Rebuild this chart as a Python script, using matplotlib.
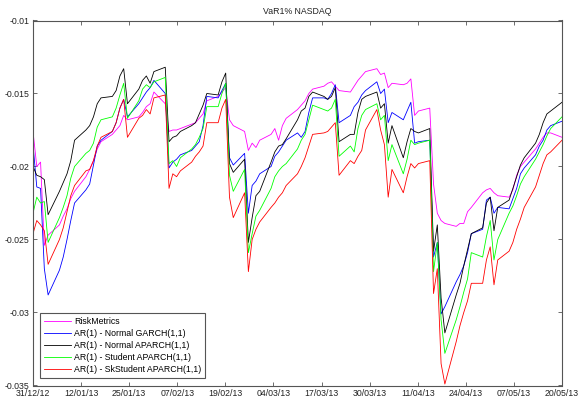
import numpy as np
import pandas as pd
import matplotlib
matplotlib.use('Agg')
import matplotlib.pyplot as plt
import matplotlib.dates as mdates

plt.rcParams['font.family'] = ['Liberation Sans', 'DejaVu Sans']
plt.rcParams['font.size'] = 6.3

# weekdays 31/12/2012 .. 20/05/2013
dates = pd.bdate_range('2012-12-31', '2013-05-20')

risk_metrics = [
    -0.0176,
    -0.0200, -0.0197, -0.0254, -0.0247, -0.0240, -0.0234, -0.0229, -0.0222, -0.0217, -0.0207, -0.0202, -0.0196,
    -0.0188, -0.0183, -0.0178, -0.0175, -0.0172, -0.0165, -0.0168, -0.0166, -0.0163, -0.0159, -0.0157,
    -0.0149, -0.0157, -0.0176, -0.0175, -0.0175, -0.0174, -0.0171, -0.0170, -0.0167, -0.0164, -0.0155, -0.0152,
    -0.0149, -0.0146, -0.0168, -0.0172, -0.0176, -0.0189, -0.0184, -0.0187,
    -0.0182, -0.0178, -0.0174, -0.0182, -0.0172, -0.0167, -0.0161, -0.0158, -0.0155, -0.0150, -0.0147, -0.0145,
    -0.0143, -0.0142, -0.0145, -0.0148, -0.0149, -0.0145, -0.0141, -0.0138, -0.0135,
    -0.0133, -0.0137, -0.0136, -0.0146, -0.0143, -0.0144, -0.0143, -0.0140, -0.0165, -0.0162, -0.0160, -0.0212,
    -0.0232, -0.0237, -0.0239, -0.0241, -0.0239, -0.0239, -0.0231, -0.0228, -0.0218, -0.0216,
    -0.0215, -0.0218, -0.0220, -0.0221, -0.0216, -0.0206, -0.0200, -0.0197, -0.0188, -0.0184, -0.0180, -0.0177,
    -0.0177, -0.0180,
]

normal_garch = [
    -0.0185,
    -0.0214, -0.0215, -0.0270, -0.0288, -0.0271, -0.0262, -0.0250, -0.0237, -0.0225, -0.0216, -0.0212, -0.0199,
    -0.0186, -0.0182, -0.0176, -0.0170, -0.0160, -0.0154, -0.0166, -0.0157, -0.0153, -0.0149, -0.0146,
    -0.0141, -0.0150, -0.0201, -0.0197, -0.0195, -0.0192, -0.0189, -0.0186, -0.0183, -0.0172, -0.0152, -0.0153,
    -0.0148, -0.0143, -0.0194, -0.0199, -0.0191, -0.0232, -0.0213, -0.0210,
    -0.0205, -0.0200, -0.0193, -0.0190, -0.0186, -0.0182, -0.0177, -0.0180, -0.0176, -0.0163, -0.0153, -0.0153,
    -0.0154, -0.0150, -0.0144, -0.0170, -0.0165, -0.0159, -0.0156, -0.0151, -0.0148,
    -0.0142, -0.0150, -0.0147, -0.0170, -0.0163, -0.0168, -0.0162, -0.0156, -0.0184, -0.0183, -0.0182, -0.0262,
    -0.0252, -0.0301, -0.0296, -0.0279, -0.0274, -0.0268, -0.0259, -0.0246, -0.0243, -0.0223,
    -0.0221, -0.0232, -0.0228, -0.0229, -0.0222, -0.0215, -0.0205, -0.0201, -0.0192, -0.0186, -0.0182, -0.0175,
    -0.0172, -0.0169,
]

normal_aparch = [
    -0.0200,
    -0.0206, -0.0207, -0.0209, -0.0233, -0.0217, -0.0211, -0.0205, -0.0196, -0.0182, -0.0175, -0.0172, -0.0166,
    -0.0157, -0.0153, -0.0152, -0.0148, -0.0138, -0.0133, -0.0157, -0.0147, -0.0141, -0.0138, -0.0143,
    -0.0135, -0.0132, -0.0183, -0.0180, -0.0179, -0.0176, -0.0172, -0.0170, -0.0164, -0.0158, -0.0150, -0.0151,
    -0.0142, -0.0136, -0.0198, -0.0204, -0.0195, -0.0252, -0.0235, -0.0220,
    -0.0217, -0.0197, -0.0190, -0.0186, -0.0185, -0.0181, -0.0168, -0.0162, -0.0160, -0.0152, -0.0149, -0.0152,
    -0.0154, -0.0152, -0.0146, -0.0183, -0.0178, -0.0178, -0.0163, -0.0154, -0.0152,
    -0.0149, -0.0160, -0.0157, -0.0184, -0.0172, -0.0194, -0.0183, -0.0174, -0.0176, -0.0177, -0.0174, -0.0258,
    -0.0240, -0.0290, -0.0314, -0.0288, -0.0280, -0.0268, -0.0257, -0.0246, -0.0242, -0.0225,
    -0.0221, -0.0244, -0.0228, -0.0223, -0.0215, -0.0207, -0.0199, -0.0194, -0.0184, -0.0178, -0.0170, -0.0164,
    -0.0162, -0.0156,
]

student_aparch = [
    -0.0232,
    -0.0221, -0.0225, -0.0224, -0.0252, -0.0235, -0.0228, -0.0220, -0.0208, -0.0200, -0.0191, -0.0189, -0.0184,
    -0.0173, -0.0168, -0.0166, -0.0160, -0.0151, -0.0143, -0.0167, -0.0155, -0.0147, -0.0144, -0.0146,
    -0.0142, -0.0139, -0.0198, -0.0196, -0.0200, -0.0194, -0.0188, -0.0185, -0.0180, -0.0174, -0.0159, -0.0159,
    -0.0150, -0.0143, -0.0206, -0.0217, -0.0202, -0.0259, -0.0246, -0.0234,
    -0.0230, -0.0215, -0.0207, -0.0203, -0.0200, -0.0198, -0.0188, -0.0182, -0.0178, -0.0168, -0.0158, -0.0161,
    -0.0162, -0.0160, -0.0154, -0.0193, -0.0186, -0.0190, -0.0174, -0.0165, -0.0161,
    -0.0157, -0.0168, -0.0165, -0.0196, -0.0185, -0.0205, -0.0195, -0.0182, -0.0185, -0.0184, -0.0182, -0.0272,
    -0.0252, -0.0305, -0.0328, -0.0305, -0.0296, -0.0286, -0.0277, -0.0259, -0.0262, -0.0248,
    -0.0237, -0.0264, -0.0250, -0.0232, -0.0227, -0.0220, -0.0212, -0.0207, -0.0195, -0.0190, -0.0185, -0.0179,
    -0.0174, -0.0166,
]

skstudent_aparch = [
    -0.0246,
    -0.0237, -0.0240, -0.0244, -0.0267, -0.0250, -0.0242, -0.0231, -0.0220, -0.0213, -0.0203, -0.0202, -0.0196,
    -0.0186, -0.0180, -0.0176, -0.0170, -0.0160, -0.0154, -0.0180, -0.0167, -0.0165, -0.0161, -0.0164,
    -0.0153, -0.0151, -0.0215, -0.0205, -0.0207, -0.0203, -0.0197, -0.0193, -0.0190, -0.0186, -0.0170, -0.0170,
    -0.0160, -0.0154, -0.0221, -0.0235, -0.0218, -0.0272, -0.0250, -0.0243,
    -0.0238, -0.0228, -0.0225, -0.0221, -0.0218, -0.0213, -0.0205, -0.0200, -0.0194, -0.0186, -0.0178, -0.0177,
    -0.0176, -0.0173, -0.0170, -0.0206, -0.0196, -0.0198, -0.0193, -0.0189, -0.0175,
    -0.0161, -0.0175, -0.0185, -0.0221, -0.0202, -0.0218, -0.0207, -0.0198, -0.0201, -0.0198, -0.0196, -0.0287,
    -0.0270, -0.0335, -0.0349, -0.0320, -0.0309, -0.0300, -0.0292, -0.0280, -0.0280, -0.0264,
    -0.0255, -0.0281, -0.0264, -0.0258, -0.0252, -0.0243, -0.0236, -0.0228, -0.0214, -0.0206, -0.0198, -0.0192,
    -0.0190, -0.0182,
]

labels = ['RiskMetrics', 'AR(1) - Normal GARCH(1,1)', 'AR(1) - Normal APARCH(1,1)',
          'AR(1) - Student APARCH(1,1)', 'AR(1) - SkStudent APARCH(1,1)']
colors = ['#ff00ff', '#0000ff', '#000000', '#00ff00', '#ff0000']

xtick_labels = ['31/12/12', '12/01/13', '25/01/13', '07/02/13', '19/02/13', '04/03/13',
                '17/03/13', '30/03/13', '11/04/13', '24/04/13', '07/05/13', '20/05/13']
ytick_values = [-0.035, -0.03, -0.025, -0.02, -0.015, -0.01]
ytick_labels = ['-0.035', '-0.03', '-0.025', '-0.02', '-0.015', '-0.01']

fig = plt.figure(figsize=(5.79, 3.97), dpi=100)
ax = fig.add_axes([33 / 579, 1 - 385.5 / 397, 529 / 579, 365 / 397])

series = [risk_metrics, normal_garch, normal_aparch, student_aparch, skstudent_aparch]
for vals, col, lab in zip(series, colors, labels):
    ax.plot(dates, vals, color=col, lw=0.6, label=lab)

x0 = mdates.date2num(dates[0])
x1 = mdates.date2num(dates[-1])
ax.set_xlim(x0, x1)
ax.set_xticks(np.linspace(x0, x1, len(xtick_labels)))
ax.set_xticklabels(xtick_labels)
ax.set_ylim(-0.035, -0.01)
ax.set_yticks(ytick_values)
ax.set_yticklabels(ytick_labels)

for s in ax.spines.values():
    s.set_color('#555555')
    s.set_linewidth(0.8)
ax.tick_params(direction='in', top=True, right=True, length=3, width=0.6,
               color='#555555', labelcolor='#222222', pad=2.5)
ax.tick_params(axis='x', pad=2.8)

ax.set_title('VaR1% NASDAQ', fontsize=6.3, pad=5, color='#222222')

leg = ax.legend(loc='lower left', fontsize=6.3, fancybox=False, framealpha=1,
                edgecolor='#555555', handlelength=3.0, handletextpad=0.4,
                labelspacing=0.35, borderpad=0.45, borderaxespad=0.85)
leg.get_frame().set_linewidth(0.8)

fig.savefig('out.png', dpi=100)
